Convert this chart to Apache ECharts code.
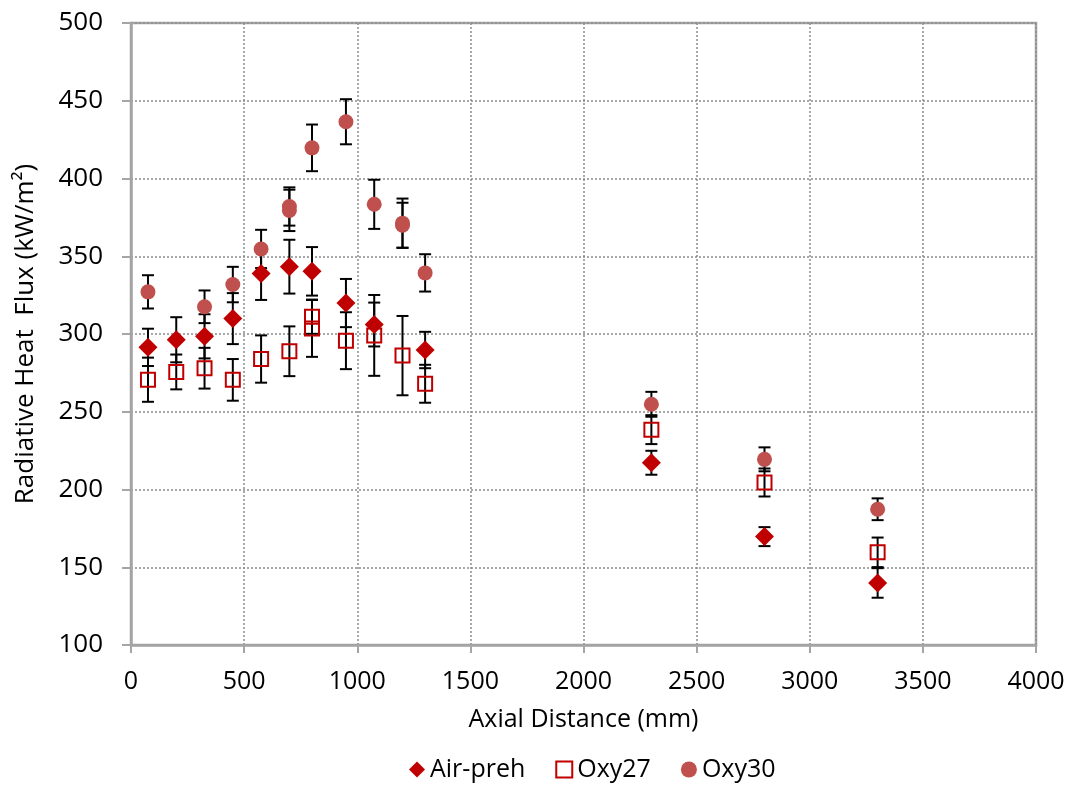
<!DOCTYPE html>
<html>
<head>
<meta charset="utf-8">
<script src="https://cdn.jsdelivr.net/npm/echarts@6/dist/echarts.min.js"></script>
<style>
  html, body { margin: 0; padding: 0; background: #fff; }
  #chart { width: 1078px; height: 787px; }
</style>
</head>
<body>
<div id="chart"></div>
<script>
// Axial position (mm), measured heat flux (kW/m²) and its uncertainty, per case
const airX   = [75, 200, 325, 450, 575, 700, 800, 950, 1075, 1300, 2300, 2800, 3300];
const airY   = [291.4, 296.3, 298.5, 309.9, 338.9, 343.3, 340.3, 319.9, 306.1, 289.7, 217.2, 169.7, 139.9];
const airErr = [12, 14.5, 14.2, 16.4, 17, 17.3, 15.6, 15.5, 14.1, 11.7, 7.7, 6.1, 9.5];

const oxy27X   = [75, 200, 325, 450, 575, 700, 800, 800, 950, 1075, 1200, 1300, 2300, 2800, 3300];
const oxy27Y   = [270.6, 275.6, 278, 270.5, 283.9, 288.9, 311.1, 303.6, 295.7, 299.1, 286.1, 268, 238.5, 204.5, 159.6];
const oxy27Err = [14.2, 11.2, 13.1, 13.4, 15.2, 16, 11, 18.3, 18.3, 26, 25.5, 12.2, 9.3, 9, 9.5];

const oxy30X   = [75, 325, 450, 575, 700, 700, 800, 950, 1075, 1200, 1200, 1300, 2300, 2800, 3300];
const oxy30Y   = [327.1, 317.5, 331.8, 354.7, 382, 379.5, 419.7, 436.5, 383.4, 371.3, 369.9, 339.3, 254.8, 219.4, 187.3];
const oxy30Err = [10.7, 10.5, 11.4, 12.3, 12.3, 13.3, 15, 14.5, 15.8, 15.8, 14.5, 12, 8, 7.7, 7];

const seriesNames = ['Air-preh', 'Oxy27', 'Oxy30'];
const xTicks = [0, 500, 1000, 1500, 2000, 2500, 3000, 3500, 4000];
const yTicks = [100, 150, 200, 250, 300, 350, 400, 450, 500];

const FONT = "'Open Sans', 'DejaVu Sans', sans-serif";
const AXIS_GREY = '#a5a5a5';

const points = (xs, ys) => xs.map((x, i) => [x, ys[i]]);
const bars = (xs, ys, es) => xs.map((x, i) => [x, ys[i] - es[i], ys[i] + es[i]]);

// Vertical error bar with horizontal caps
function renderErrorBar(params, api) {
  const x = api.value(0);
  const lo = api.coord([x, api.value(1)]);
  const hi = api.coord([x, api.value(2)]);
  const half = 6;
  const style = { stroke: '#000', lineWidth: 2 };
  return {
    type: 'group',
    children: [
      { type: 'line', shape: { x1: hi[0], y1: hi[1], x2: lo[0], y2: lo[1] }, style },
      { type: 'line', shape: { x1: hi[0] - half, y1: hi[1], x2: hi[0] + half, y2: hi[1] }, style },
      { type: 'line', shape: { x1: lo[0] - half, y1: lo[1], x2: lo[0] + half, y2: lo[1] }, style }
    ]
  };
}

function errorSeries(xs, ys, es) {
  return {
    type: 'custom',
    renderItem: renderErrorBar,
    data: bars(xs, ys, es),
    encode: { x: 0, y: [1, 2] },
    z: 1,
    silent: true,
    tooltip: { show: false }
  };
}

const chart = echarts.init(document.getElementById('chart'), null, { renderer: 'canvas' });

chart.setOption({
  animation: false,
  backgroundColor: '#fff',
  textStyle: { fontFamily: FONT, color: '#000' },
  grid: {
    left: 131, right: 42, top: 23, bottom: 142,
    show: true, borderColor: AXIS_GREY, borderWidth: 2.5, backgroundColor: 'transparent'
  },
  legend: {
    data: seriesNames,
    bottom: 0,
    left: 404,
    itemWidth: 16,
    itemHeight: 16,
    itemGap: 30,
    textStyle: { fontFamily: FONT, fontSize: 25, color: '#000' }
  },
  xAxis: {
    type: 'value',
    min: xTicks[0],
    max: xTicks[xTicks.length - 1],
    interval: 500,
    name: 'Axial Distance (mm)',
    nameLocation: 'middle',
    nameGap: 62,
    nameTextStyle: { fontFamily: FONT, fontSize: 25, color: '#000' },
    axisLine: { show: true, onZero: false, lineStyle: { color: AXIS_GREY, width: 2.5 } },
    axisTick: { show: true, inside: false, length: 8, lineStyle: { color: AXIS_GREY, width: 2 } },
    axisLabel: { margin: 24, fontFamily: FONT, fontSize: 25, color: '#000', formatter: v => String(v) },
    splitLine: { show: true, lineStyle: { color: '#8c8c8c', width: 1.5, type: [2, 2] } }
  },
  yAxis: {
    type: 'value',
    min: yTicks[0],
    max: yTicks[yTicks.length - 1],
    interval: 50,
    name: 'Radiative Heat  Flux (kW/m²)',
    nameLocation: 'middle',
    nameRotate: 90,
    nameGap: 92,
    nameTextStyle: { fontFamily: FONT, fontSize: 26, color: '#000' },
    axisLine: { show: true, onZero: false, lineStyle: { color: AXIS_GREY, width: 2.5 } },
    axisTick: { show: true, inside: false, length: 9, lineStyle: { color: AXIS_GREY, width: 2 } },
    axisLabel: { margin: 28, fontFamily: FONT, fontSize: 26, color: '#000', formatter: v => String(v) },
    splitLine: { show: true, lineStyle: { color: '#8c8c8c', width: 1.5, type: [2, 2] } }
  },
  series: [
    errorSeries(airX, airY, airErr),
    errorSeries(oxy27X, oxy27Y, oxy27Err),
    errorSeries(oxy30X, oxy30Y, oxy30Err),
    {
      name: seriesNames[0],
      type: 'scatter',
      symbol: 'diamond',
      symbolSize: 19,
      itemStyle: { color: '#c00000', opacity: 1 },
      data: points(airX, airY),
      z: 3
    },
    {
      name: seriesNames[1],
      type: 'scatter',
      symbol: 'rect',
      symbolSize: 14,
      itemStyle: { color: 'rgba(255,255,255,0)', borderColor: '#c00000', borderWidth: 2, opacity: 1 },
      data: points(oxy27X, oxy27Y),
      z: 3
    },
    {
      name: seriesNames[2],
      type: 'scatter',
      symbol: 'circle',
      symbolSize: 15,
      itemStyle: { color: '#c0504d', opacity: 1 },
      data: points(oxy30X, oxy30Y),
      z: 3
    }
  ]
});
</script>
</body>
</html>
